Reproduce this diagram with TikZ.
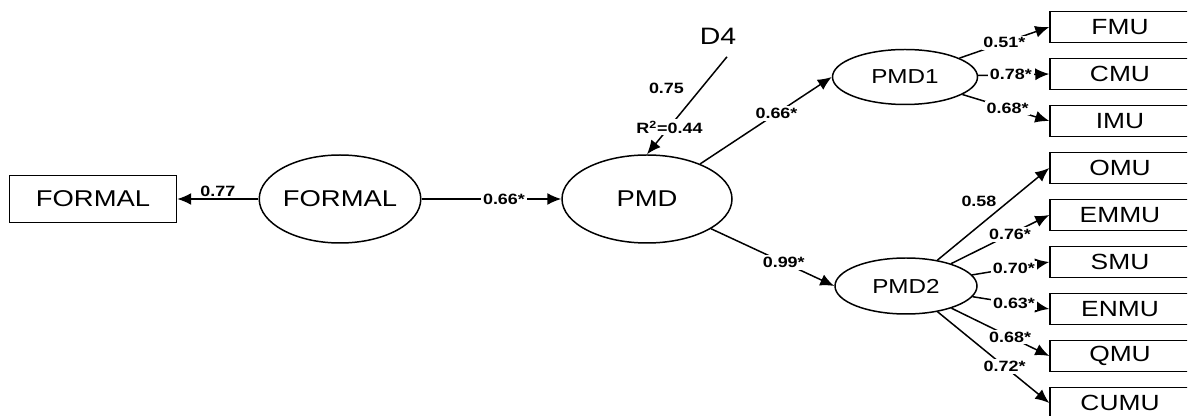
\documentclass[tikz,border=0pt]{standalone}
\usepackage{fontspec}
\setmainfont{Liberation Sans}[FakeStretch=1.2]
\usetikzlibrary{shapes.geometric,arrows.meta,positioning}

\begin{document}
\begin{tikzpicture}[>={Latex[length=0.28cm,width=0.24cm]},line width=0.85pt,node distance=0.94cm,on grid,
	latent/.style={ellipse,draw,inner sep=0pt,font=\fontsize{13}{15}\selectfont},
	observed/.style={rectangle,draw,inner sep=0pt,minimum width=2.8cm,minimum height=0.62cm,font=\fontsize{12.5}{14}\selectfont},
	coef/.style={fill=white,inner sep=1pt,font=\fontsize{8.5}{10}\selectfont\bfseries}]
	\useasboundingbox (0,0) rectangle (23.84,-8.32);
	\clip (0,0) rectangle (23.74,-8.32);
	\node[observed,minimum width=3.34cm,minimum height=0.94cm,font=\fontsize{13}{15}\selectfont] (formalbox) at (1.86,-3.98) {FORMAL};
	\node[latent,minimum width=3.2cm,minimum height=1.76cm] (formal) [right=4.94cm of formalbox] {FORMAL};
	\node[latent,minimum width=3.4cm,minimum height=1.76cm] (pmd) [right=6.14cm of formal] {PMD};
	\node[latent,minimum width=2.9cm,minimum height=1.1cm,font=\fontsize{11.5}{13}\selectfont] (pmd1) [above right=2.44cm and 5.16cm of pmd] {PMD1};
	\node[latent,minimum width=2.84cm,minimum height=1.12cm,font=\fontsize{11.5}{13}\selectfont] (pmd2) [below right=1.74cm and 5.18cm of pmd] {PMD2};
	\node[font=\fontsize{13.5}{15}\selectfont] (d4) [above right=3.26cm and 1.42cm of pmd] {D4};
	\coordinate (d4tail) at ([xshift=0.18cm,yshift=-0.12cm]d4.south);
	\node[observed] (fmu) [above right=1cm and 4.3cm of pmd1] {FMU};
	\node[observed] (cmu) [below=of fmu] {CMU};
	\node[observed] (imu) [below=of cmu] {IMU};
	\node[observed] (omu) [below=of imu] {OMU};
	\node[observed] (emmu) [below=of omu] {EMMU};
	\node[observed] (smu) [below=of emmu] {SMU};
	\node[observed] (enmu) [below=of smu] {ENMU};
	\node[observed] (qmu) [below=of enmu] {QMU};
	\node[observed] (cumu) [below=of qmu] {CUMU};
	\path[->]
	(formal) edge node[coef,above] {0.77} (formalbox)
	(formal) edge node[coef,pos=0.59] {0.66*} (pmd)
	(d4tail) edge node[coef,pos=0.32,left=0.3cm] {0.75} node[coef,pos=0.72] {R\textsuperscript{2}=0.44} (pmd.north)
	(pmd) edge node[coef,pos=0.58] {0.66*} (pmd1.west)
	(pmd) edge node[coef,pos=0.59] {0.99*} (pmd2.west)
	(pmd1) edge node[coef,pos=0.5] {0.51*} (fmu.west)
	(pmd1) edge node[coef,pos=0.46] {0.78*} (cmu.west)
	(pmd1) edge node[coef,pos=0.52] {0.68*} (imu.west)
	(pmd2) edge node[coef,pos=0.55,above left] {0.58} (omu.west)
	(pmd2) edge node[coef,pos=0.6] {0.76*} (emmu.west)
	(pmd2) edge node[coef,pos=0.54] {0.70*} (smu.west)
	(pmd2) edge node[coef,pos=0.54] {0.63*} (enmu.west)
	(pmd2) edge node[coef,pos=0.6] {0.68*} (qmu.west)
	(pmd2) edge node[coef,pos=0.6] {0.72*} (cumu.west)
	;
\end{tikzpicture}
\end{document}
